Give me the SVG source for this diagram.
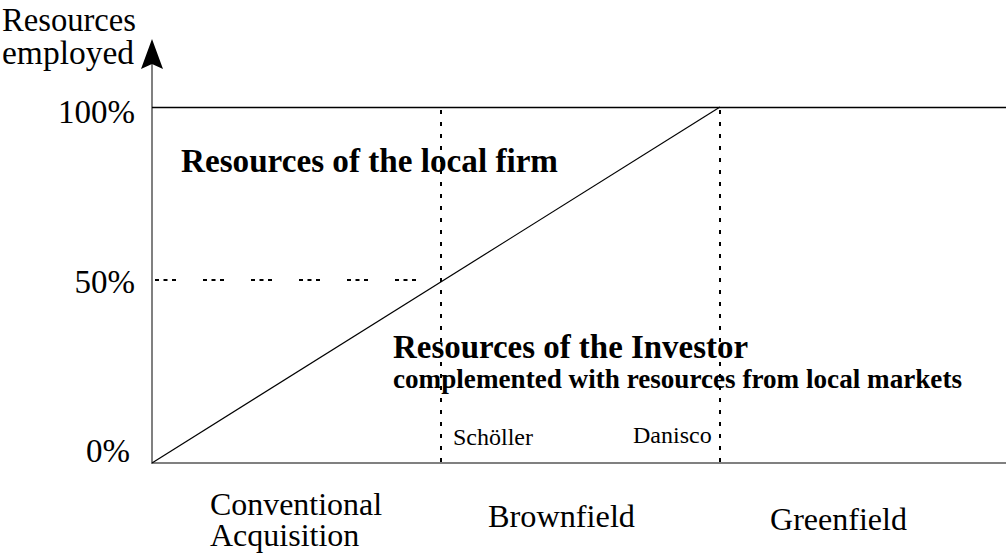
<svg xmlns="http://www.w3.org/2000/svg" width="1006" height="554" viewBox="0 0 1006 554">
<style>
.t{font-family:"Liberation Serif","Times New Roman",serif;fill:#000}
.b{font-weight:bold}
.dv{stroke:#000;stroke-width:2;stroke-dasharray:4 8;fill:none}
</style>
<rect width="1006" height="554" fill="#fff"/>
<g id="axes">
<line x1="152" y1="464" x2="152" y2="64" stroke="#808080" stroke-width="2"/>
<polygon points="152,39 163,69 152,64 141,69" fill="#000"/>
<line x1="152" y1="463" x2="1006" y2="463" stroke="#808080" stroke-width="2"/>
<line x1="152" y1="107.5" x2="1006" y2="107.5" stroke="#000" stroke-width="1.5"/>
</g>
<g id="connectors">
<line x1="152" y1="463" x2="720" y2="107" stroke="#000" stroke-width="1.2"/>
<line class="dv" x1="441" y1="110" x2="441" y2="463"/>
<line class="dv" x1="720" y1="110" x2="720" y2="463"/>
<line x1="155" y1="280" x2="441" y2="280" stroke="#000" stroke-width="2" stroke-dasharray="4 4.5 4 4.5 4 27"/>
</g>
<g id="axis-labels">
<text class="t" x="2" y="31" font-size="33" textLength="134" lengthAdjust="spacingAndGlyphs">Resources</text>
<text class="t" x="2" y="64" font-size="33" textLength="132" lengthAdjust="spacingAndGlyphs">employed</text>
<text class="t" x="135" y="123" font-size="33" text-anchor="end">100%</text>
<text class="t" x="135" y="293" font-size="33" text-anchor="end">50%</text>
<text class="t" x="130" y="462" font-size="33" text-anchor="end">0%</text>
</g>
<g id="local-firm">
<text class="t b" x="181" y="172" font-size="33" textLength="377" lengthAdjust="spacingAndGlyphs">Resources of the local firm</text>
</g>
<g id="investor">
<text class="t b" x="393" y="358" font-size="33" textLength="355" lengthAdjust="spacingAndGlyphs">Resources of the Investor</text>
<text class="t b" x="393" y="388" font-size="27" textLength="569" lengthAdjust="spacingAndGlyphs">complemented with resources from local markets</text>
</g>
<g id="examples">
<text class="t" x="453" y="445" font-size="24">Schöller</text>
<text class="t" x="633" y="443" font-size="24">Danisco</text>
</g>
<g id="categories">
<text class="t" x="210" y="515" font-size="32" textLength="172" lengthAdjust="spacingAndGlyphs">Conventional</text>
<text class="t" x="210" y="546" font-size="32">Acquisition</text>
<text class="t" x="488" y="527" font-size="32" textLength="147" lengthAdjust="spacingAndGlyphs">Brownfield</text>
<text class="t" x="770" y="530" font-size="32" textLength="137" lengthAdjust="spacingAndGlyphs">Greenfield</text>
</g>
</svg>
